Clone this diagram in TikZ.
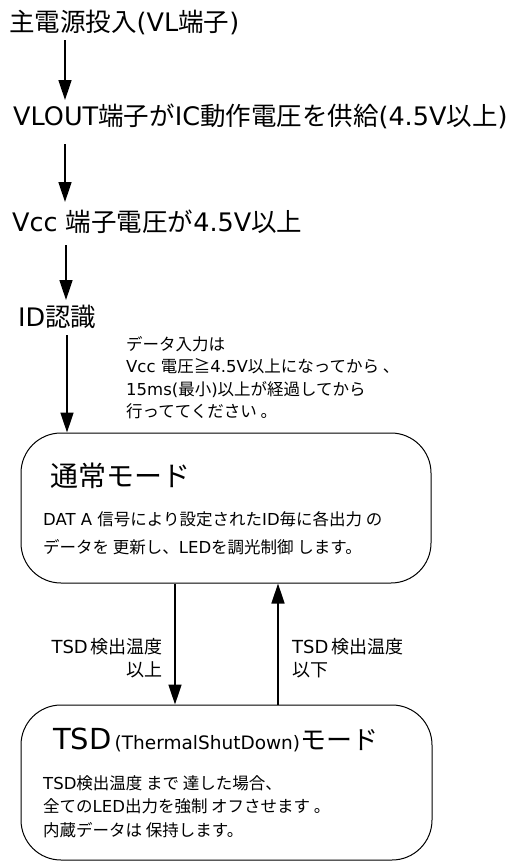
\documentclass[tikz,border=0pt]{standalone}
\usepackage{fontspec}
\setmainfont{DejaVu Sans}
\newfontfamily\jp{Noto Sans CJK JP}
\newcommand\J[1]{{\jp #1}}
\usetikzlibrary{arrows.meta}
\tikzset{
  arr/.style={line width=1.5pt, -{Triangle[length=20pt,width=13pt]}},
  modebox/.style={draw, line width=1pt, rounded corners=40pt, minimum width=410pt, inner sep=0pt},
  big/.style={anchor=base west, inner sep=0pt, font=\fontsize{25.5}{30}\selectfont},
  small/.style={anchor=base west, inner sep=0pt, font=\fontsize{16.5}{20}\selectfont},
  lab/.style={inner sep=0pt, font=\fontsize{18}{22}\selectfont},
}
\begin{document}
\begin{tikzpicture}[x=1pt,y=-1pt]
\useasboundingbox (0,0) rectangle (512,862);
% step texts
\node[big] (s1) at (9,31) {\J{主電源投入}(VL\J{端子})};
\node[big] (s2) at (13,125) {VLOUT\J{端子が}IC\J{動作電圧を供給}(4.5V\J{以上})};
\node[big] (s3) at (12,231) {Vcc \J{端子電圧が}4.5V\J{以上}};
\node[big] (s4) at (18,326) {ID\J{認識}};
% note
\node[small] (n1) at (126,350.5) {\J{データ入力は}};
\node[small] (n2) at (126,372.8) {Vcc \J{電圧≧}4.5V\J{以上になってから 、}};
\node[small] (n3) at (126,395) {15ms(\J{最小})\J{以上が経過してから}};
\node[small] (n4) at (126,417.3) {\J{行っててください 。}};
% normal mode box
\node[modebox, minimum height=150pt] (m1) at (226,508) {};
\node[anchor=base west, inner sep=0pt, font=\fontsize{28}{32}\selectfont] (m1t) at (50,486.6) {\J{通常モード}};
\node[small] (m1a) at (43,525.5) {DAT A \J{信号により設定された}ID\J{毎に各出力 の}};
\node[small] (m1b) at (43,553.5) {\J{データを 更新し、}LED\J{を調光制御 します。}};
% TSD box
\node[modebox, minimum height=155pt, minimum width=411pt] (m2) at (226.5,782.5) {};
\node[anchor=base west, inner sep=0pt] (m2t) at (53,749) {{\fontsize{29}{32}\selectfont TSD}\hspace{3pt}{\fontsize{18.5}{20}\selectfont (ThermalShutDown)}{\fontsize{26}{30}\selectfont\J{モード}}};
\node[small] (m2a) at (43,789) {TSD\J{検出温度 まで 達した場合、}};
\node[small] (m2b) at (43,812) {\J{全ての}LED\J{出力を強制 オフさせます 。}};
\node[small] (m2c) at (43,836) {\J{内蔵データは 保持します。}};
% labels
\node[lab, anchor=base east] (l1a) at (163,653.8) {TSD\hspace{3pt}\J{検出温度}};
\node[lab, anchor=base east] (l1b) at (163,676.8) {\J{以上}};
\node[lab, anchor=base west] (l2a) at (292,653.8) {TSD\hspace{3pt}\J{検出温度}};
\node[lab, anchor=base west] (l2b) at (292,676.8) {\J{以下}};
% connector coordinates
\coordinate (c1a) at (65,40);  \coordinate (c1b) at (65,100);
\coordinate (c2a) at (65,144); \coordinate (c2b) at (65,202);
\coordinate (c3a) at (66,245); \coordinate (c3b) at (66,300);
\coordinate (c4a) at (67,335);
\coordinate (dx) at (175,0);
\coordinate (ux) at (278,0);
\draw[arr] (c1a) -- (c1b);
\draw[arr] (c2a) -- (c2b);
\draw[arr] (c3a) -- (c3b);
\draw[arr] (c4a) -- (c4a |- m1.north);
\draw[arr] (m1.south -| dx) -- (m2.north -| dx);
\draw[arr] (m2.north -| ux) -- (m1.south -| ux);
\end{tikzpicture}
\end{document}
